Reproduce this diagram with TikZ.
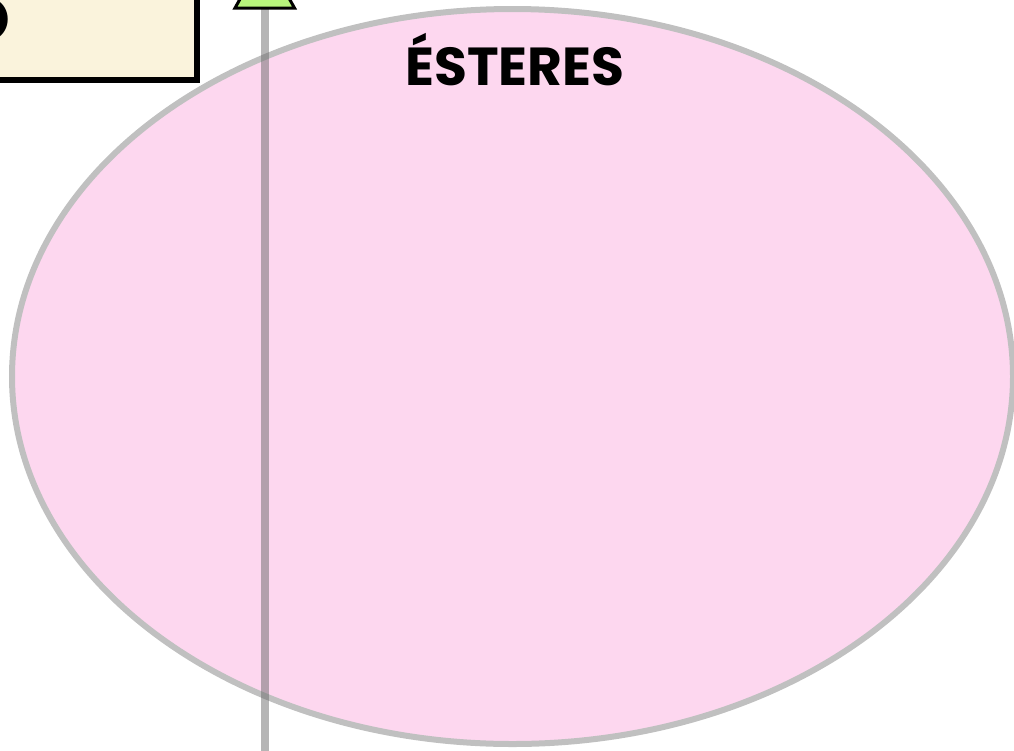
\documentclass[tikz,border=0pt]{standalone}
\usepackage{fontspec}
\setmainfont{Poppins}
\definecolor{pinkfill}{HTML}{FDD7EF}
\definecolor{cream}{HTML}{FAF3DC}
\definecolor{tipgreen}{HTML}{B8F57C}
\definecolor{ringgray}{HTML}{C0C0C0}
\definecolor{linegray}{HTML}{6B6B6B}
\tikzset{
  ringshape/.style={fill=pinkfill, draw=ringgray, line width=6pt},
  boxshape/.style={fill=cream, draw=black, line width=5.5pt},
  connline/.style={draw=linegray, draw opacity=0.5, line width=8pt},
  tipshape/.style={fill=tipgreen, draw=black, line width=3pt, line join=miter},
  titletext/.style={font=\fontsize{53.5}{53.5}\selectfont\bfseries, inner sep=0pt, anchor=base}
}
\begin{document}
\begin{tikzpicture}[x=1pt,y=-1pt]
\useasboundingbox (0,0) rectangle (1014,750);
\clip (0,0) rectangle (1014,750);
% ellipse
\path[ringshape] (512.5,376.5) ellipse [x radius=500.5, y radius=367.5];
\node[titletext] (esteres) at (515,85) {ÉSTERES};
% box at top left
\draw[boxshape] (-200,-100) rectangle (197,80);
\node[font=\fontsize{62}{62}\selectfont\bfseries, inner sep=0pt, anchor=east] (boxtext) at (10,20) {O};
% vertical connector with arrow head going up
\coordinate (linebottom) at (265,760);
\coordinate (linetop) at (265,9);
\draw[connline] (linebottom) -- (linetop);
\path[tipshape] (235,8) -- (294.5,8) -- (264.75,-45) -- cycle;
\end{tikzpicture}
\end{document}
